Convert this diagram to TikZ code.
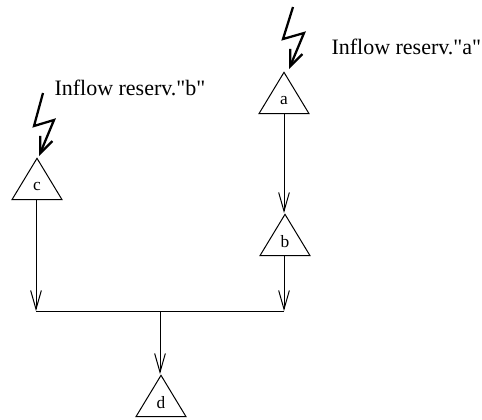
\documentclass[tikz,border=0pt]{standalone}
\usepackage{fontspec}
\setmainfont[Ligatures=TeXOff]{Liberation Serif}
\usetikzlibrary{arrows.meta,shapes.geometric,positioning}

\begin{document}
\begin{tikzpicture}[x=0.75pt,y=-0.75pt,line width=0.75pt,
    >={Straight Barb[length=14pt,width=8pt,line width=0.75pt]},
    reserv/.style={draw,isosceles triangle,isosceles triangle stretches,shape border rotate=90,anchor=apex,
        minimum width=37.5pt,minimum height=31pt,inner sep=0pt,font=\fontsize{13}{15}\selectfont},
    inflowtext/.style={anchor=west,inner sep=0pt,font=\fontsize{16.5}{19}\selectfont},
    bolt/.style={line width=1.7pt,miter limit=10,-{Straight Barb[length=12pt,width=10pt,line width=1.7pt]}}]

    \useasboundingbox (0,0) rectangle (482,419);

    % reservoirs
    \node[reserv] (a) at (284,71) {a};
    \node[reserv] (b) at (285,213) {b};
    \node[reserv] (c) at (37,157) {c};
    \node[reserv] (d) at (161,374) {d};

    % labels
    \node[inflowtext] (ta) at (331,47) {Inflow reserv."a"};
    \node[inflowtext] (tb) at (54,88) {Inflow reserv."b"};

    % junction
    \coordinate (jc) at (36,311);
    \coordinate (jb) at (284,311);
    \coordinate (jd) at (160,311);
    \draw (jc) -- (jb);

    \draw[->] (a.south) -- (a.south |- b.apex);
    \draw[->] (jb |- b.south) -- (jb);
    \draw[->] (jc |- c.south) -- (jc);
    \draw[->] (jd) -- (jd |- d.apex);

    % inflows
    \coordinate (la) at (293,7);
    \coordinate (lc) at (43,93);
    \draw[bolt] (la) -- ++(-10,32) -- ++(21,-6) -- ++(-15,36);
    \draw[bolt] (lc) -- ++(-9,33) -- ++(20,-6) -- ++(-15,36);
\end{tikzpicture}
\end{document}
